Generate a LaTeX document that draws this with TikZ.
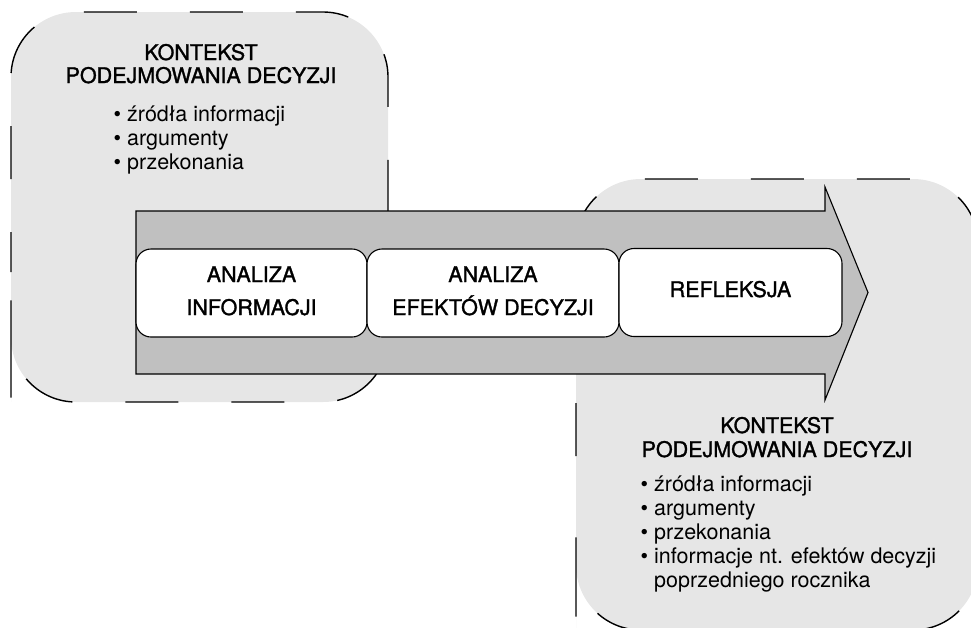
\documentclass[tikz,border=0pt]{standalone}
\usepackage{fontspec}
\setmainfont{TeX Gyre Heros}
\newfontfamily\headfam{TeX Gyre Heros}[FakeBold=1.4]
\definecolor{ctxgrey}{HTML}{E6E6E6}
\definecolor{arrowgrey}{HTML}{C0C0C0}
\newcommand\diagfont{\fontsize{21.5pt}{24pt}\selectfont}
\newcommand\headfont{\headfam\fontsize{21.5pt}{24pt}\selectfont}
\tikzset{
  ctx/.style={fill=ctxgrey, draw=black, line width=1.4pt,
    dash pattern=on 53pt off 53pt, rounded corners=65pt},
  flow/.style={fill=arrowgrey, draw=black, line width=1.1pt, line join=miter},
  stepbox/.style={draw=black, fill=white, line width=1.1pt, rounded corners=15pt,
    minimum height=88pt, inner sep=0pt},
  txt/.style={anchor=base, inner sep=0pt, font=\headfont},
  itm/.style={anchor=base west, inner sep=0pt, font=\diagfont},
}
\begin{document}
\begin{tikzpicture}[x=1pt, y=-1pt]
  \useasboundingbox (0,0) rectangle (971,627);
  \clip (0,0) rectangle (971,627);

  % context of the decision (left)
  \path[ctx, dash phase=13pt]
    (11,337) -- (11,12) -- (388,12) -- (388,402) -- (11,402) -- cycle;
  % context of the decision (right, runs past the page edge)
  \path[ctx, dash phase=62pt]
    (576,565) -- (576,179) -- (978,179) -- (978,630) -- (576,630) -- cycle;

  % big process arrow
  \draw[flow] (136,211) -- (825,211) -- (825,187) -- (868,292.5)
    -- (825,400) -- (825,374) -- (136,374) -- cycle;

  % process steps
  \node[stepbox, minimum width=231pt] (s1) at (251.5,293) {};
  \node[stepbox, minimum width=252pt] (s2) at (493,293) {};
  \node[stepbox, minimum width=223pt] (s3) at (730.5,292.5) {};

  \node[txt] (s1a) at ([yshift=11pt]s1.center) {ANALIZA};
  \node[txt] (s1b) at ([yshift=-22pt]s1.center) {INFORMACJI};
  \node[txt] (s2a) at ([yshift=11pt]s2.center) {ANALIZA};
  \node[txt] (s2b) at ([yshift=-22pt]s2.center) {EFEKTÓW DECYZJI};
  \node[txt] (s3a) at ([yshift=-4.5pt]s3.center) {REFLEKSJA};

  % left context text
  \node[txt] (lh1) at (201,60) {KONTEKST};
  \node[txt] (lh2) at (201,83) {PODEJMOWANIA DECYZJI};
  \node[itm] (li1) at (113.5,121) {• źródła informacji};
  \node[itm] (li2) at (113.5,145) {• argumenty};
  \node[itm] (li3) at (113.5,169) {• przekonania};

  % right context text
  \node[txt] (rh1) at (777,433) {KONTEKST};
  \node[txt] (rh2) at (777,457) {PODEJMOWANIA DECYZJI};
  \node[itm] (ri1) at (640.5,491) {• źródła informacji};
  \node[itm] (ri2) at (640.5,515) {• argumenty};
  \node[itm] (ri3) at (640.5,539) {• przekonania};
  \node[itm] (ri4) at (640.5,563) {• informacje nt. efektów decyzji};
  \node[itm] (ri5) at (640.5,587) {\phantom{• }poprzedniego rocznika};
\end{tikzpicture}
\end{document}
